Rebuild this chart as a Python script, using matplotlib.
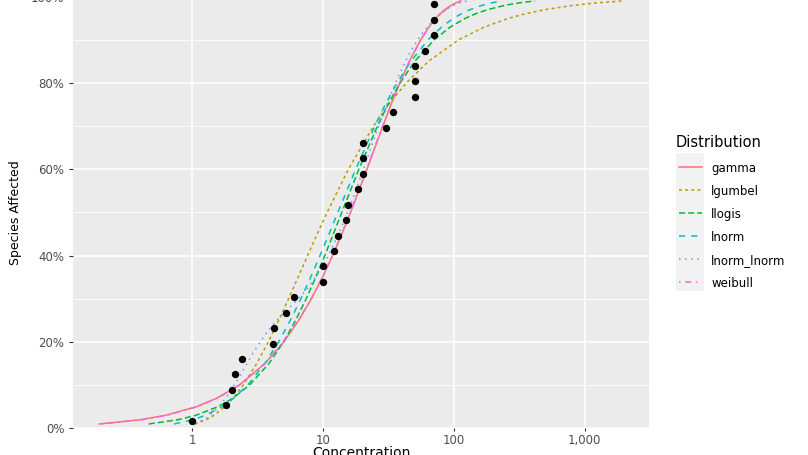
import matplotlib
matplotlib.use("Agg")
import matplotlib.pyplot as plt
from matplotlib.ticker import FixedLocator, NullLocator
from matplotlib.lines import Line2D
from matplotlib.patches import Rectangle

# ---------------- data ----------------
# observed toxicity concentrations and their plotted positions (%)
obs_conc = [1.0, 1.8, 2.0, 2.1, 2.4, 4.1, 4.2, 5.2, 6.0, 10.0, 10.0, 12.0, 13.0, 15.0,
            15.6, 18.3, 20.0, 20.0, 20.0, 30.0, 34.0, 50.0, 50.0, 50.0, 60.0, 70.0, 70.0, 70.0]
obs_pct = [1.8, 5.4, 8.9, 12.5, 16.1, 19.6, 23.2, 26.8, 30.4, 33.9, 37.5, 41.1, 44.6, 48.2,
           51.8, 55.4, 58.9, 62.5, 66.1, 69.6, 73.2, 76.8, 80.4, 83.9, 87.5, 91.1, 94.6, 98.2]

# fitted curves: percent affected vs concentration
curve_pct = [1, 2, 3, 5, 7, 10, 15, 20, 25, 30, 35, 40, 45, 50, 60, 70, 75, 80, 85, 90,
             93, 95, 96, 97, 98, 98.5, 99]
gamma_conc = [0.194, 0.404, 0.621, 1.073, 1.543, 2.279, 3.586, 4.991, 6.50, 8.13, 9.89,
              11.80, 13.89, 16.19, 21.59, 28.59, 33.04, 38.53, 45.61, 55.60, 64.42, 72.74,
              78.27, 85.40, 95.47, 102.6, 112.7]
lgumbel_conc = [1.042, 1.274, 1.458, 1.769, 2.048, 2.445, 3.103, 3.799, 4.564, 5.429, 6.425,
                7.595, 8.996, 10.71, 15.58, 24.24, 31.58, 43.16, 63.74, 108.6, 171.8, 263.3,
                348.7, 499.9, 828.3, 1184.0, 1955.0]
llogis_conc = [0.463, 0.779, 1.059, 1.570, 2.046, 2.729, 3.844, 4.973, 6.153, 7.411, 8.775,
               10.28, 11.96, 13.87, 18.73, 25.97, 31.28, 38.70, 50.08, 70.52, 94.09, 122.6,
               145.7, 181.7, 247.1, 306.9, 415.8]
lnorm_conc = [0.723, 1.014, 1.256, 1.683, 2.075, 2.641, 3.579, 4.557, 5.605, 6.751, 8.023,
              9.450, 11.07, 12.94, 17.71, 24.79, 29.85, 36.73, 46.77, 63.38, 80.64, 99.45,
              113.4, 133.2, 165.1, 190.7, 231.5]
weibull_conc = [0.201, 0.414, 0.633, 1.086, 1.555, 2.287, 3.583, 4.974, 6.470, 8.083, 9.828,
                11.72, 13.80, 16.08, 21.47, 28.48, 32.95, 38.46, 45.60, 55.73, 64.68, 73.18,
                78.82, 86.13, 96.45, 103.8, 114.2]
lnorm_lnorm_conc = [1.05, 1.3, 1.6, 1.9, 2.2, 2.5, 2.8, 3.2, 3.7, 4.3, 5.0, 6.0, 7.5, 9.0, 11.0,
                    13.5, 16.5, 20.0, 25.0, 30.0, 37.0, 45.0, 55.0, 70.0, 90.0, 110.0, 126.0]
lnorm_lnorm_pct = [1.0, 2.5, 5.0, 8.0, 11.1, 14.0, 16.6, 19.4, 22.2, 24.6, 26.7, 29.0, 32.2, 35.5,
                   40.1, 45.9, 52.5, 59.5, 67.8, 74.3, 81.1, 86.5, 90.9, 94.7, 97.3, 98.5, 99.0]

dist_names = ["gamma", "lgumbel", "llogis", "lnorm", "lnorm_lnorm", "weibull"]
dist_colors = ["#F8766D", "#B79F00", "#00BA38", "#00BFC4", "#619CFF", "#F564E3"]
dist_styles = ["-", (0, (2, 2)), (0, (4, 2)), (0, (4, 4)), (0, (1, 3)), (0, (1, 3, 4, 3))]

x_ticks = [1, 10, 100, 1000]
x_tick_labels = ["1", "10", "100", "1,000"]
y_ticks = [0, 0.2, 0.4, 0.6, 0.8, 1.0]
y_tick_labels = ["0%", "20%", "40%", "60%", "80%", "100%"]
y_minor = [0.1, 0.3, 0.5, 0.7, 0.9]

# ---------------- figure ----------------
W, H = 808, 455
plt.rcParams["font.family"] = ["DejaVu Sans"]
fig = plt.figure(figsize=(W / 100, H / 100), dpi=100)
fig.patch.set_facecolor("white")

px_bottom, px_top = 428.3, -3.4
ax = fig.add_axes([73 / W, (H - px_bottom) / H, 576 / W, (px_bottom - px_top) / H])
ax.set_facecolor("#EBEBEB")
for s in ax.spines.values():
    s.set_visible(False)
ax.set_axisbelow(True)
ax.set_xscale("log")
ax.set_xlim(10 ** -0.9133, 10 ** 3.4914)
ax.set_ylim(0, 1)

ax.xaxis.set_major_locator(FixedLocator(x_ticks))
ax.xaxis.set_minor_locator(NullLocator())
ax.set_xticklabels(x_tick_labels)
ax.set_yticks(y_ticks)
ax.set_yticklabels(y_tick_labels)
ax.set_yticks(y_minor, minor=True)

ax.grid(which="major", color="white", linewidth=1.1)
ax.grid(which="minor", axis="y", color="white", linewidth=0.55)
ax.tick_params(which="minor", length=0)
ax.tick_params(axis="both", which="major", color="#333333", labelcolor="#4D4D4D",
               labelsize=8.5, width=0.8)
ax.tick_params(axis="y", length=3.2, pad=2.9)
ax.tick_params(axis="x", length=2.5, pad=1.4)

curves_x = [gamma_conc, lgumbel_conc, llogis_conc, lnorm_conc, lnorm_lnorm_conc, weibull_conc]
curves_y = [curve_pct, curve_pct, curve_pct, curve_pct, lnorm_lnorm_pct, curve_pct]
for name, cx, cy, col, ls in zip(dist_names, curves_x, curves_y, dist_colors, dist_styles):
    ax.plot(cx, [v / 100 for v in cy], color=col, linestyle=ls, linewidth=1.1,
            label=name, zorder=3)

ax.scatter(obs_conc, [v / 100 for v in obs_pct], s=28, color="black", zorder=5,
           linewidths=0)

# axis titles
fig.text(361 / W, -0.004, "Concentration", ha="center", va="baseline",
         fontsize=10, color="black")
fig.text(15.5 / W, (H - 213) / H, "Species Affected", rotation=90, ha="center",
         va="center", fontsize=9, color="black")

# legend (drawn in figure pixel space)
fig.text(676 / W, (H - 146.7) / H, "Distribution", ha="left", va="baseline",
         fontsize=10.5, color="black")
fig.patches.append(Rectangle((676 / W, (H - 291) / H), 28 / W, 138 / H,
                             transform=fig.transFigure, facecolor="#F2F2F2",
                             edgecolor="none"))
for i, (name, col, ls) in enumerate(zip(dist_names, dist_colors, dist_styles)):
    yc = 166.7 + 23.06 * i
    fig.add_artist(Line2D([678.5 / W, 701.5 / W], [(H - yc) / H, (H - yc) / H],
                          transform=fig.transFigure, color=col, linestyle=ls,
                          linewidth=1.1))
    fig.text(711 / W, (H - yc) / H, name, ha="left", va="center_baseline",
             fontsize=8.5, color="black")

fig.savefig("out.png", dpi=100)
